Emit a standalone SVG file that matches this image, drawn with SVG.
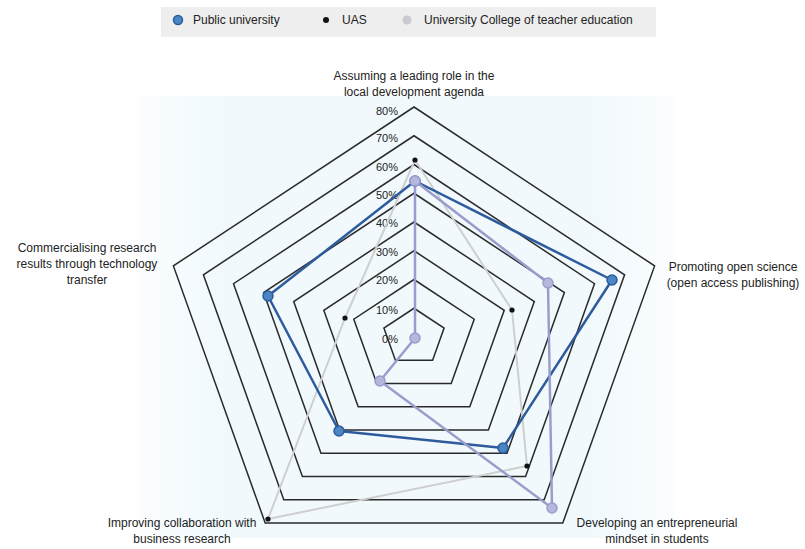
<svg xmlns="http://www.w3.org/2000/svg" width="805" height="549" viewBox="0 0 805 549">
<style>
text{font-family:"Liberation Sans",Arial,sans-serif;fill:#222;}
.lab{font-size:12px;text-anchor:middle;}
.pct{font-size:11px;text-anchor:end;}
.leg{font-size:12px;}
.grid{fill:none;stroke:#2a2a2a;stroke-width:1.5;stroke-linejoin:miter;}
.pub{fill:none;stroke:#2d5b9c;stroke-width:2.5;stroke-linejoin:round;}
.uas{fill:none;stroke:#cfcfcf;stroke-width:2;stroke-linejoin:round;}
.ute{fill:none;stroke:#9a9dcc;stroke-width:2.5;stroke-linejoin:round;}
.mpub{fill:#4a86c4;stroke:#2d5b9c;stroke-width:1.5;}
.muas{fill:#111;}
.mute{fill:#b5b8dc;stroke:#9a9dcc;stroke-width:1.5;}
</style>
<defs>
<linearGradient id="bg" x1="0" y1="0" x2="1" y2="0">
<stop offset="0" stop-color="#f1f9fd" stop-opacity="0.3"/>
<stop offset="0.15" stop-color="#f1f9fd"/>
<stop offset="0.85" stop-color="#f1f9fd"/>
<stop offset="1" stop-color="#f1f9fd" stop-opacity="0.3"/>
</linearGradient>
</defs>
<rect x="0" y="0" width="805" height="549" fill="#ffffff"/>
<rect x="140" y="96" width="535" height="442" fill="url(#bg)"/>
<g id="legend">
<rect x="161" y="7" width="495" height="30" fill="#eeeeee"/>
<circle cx="178" cy="20" r="4.5" class="mpub"/>
<text class="leg" x="193" y="24">Public university</text>
<circle cx="326" cy="20" r="3" class="muas"/>
<text class="leg" x="342" y="24">UAS</text>
<circle cx="407" cy="20" r="4.5" fill="#c9c9cf"/>
<text class="leg" x="424" y="24">University College of teacher education</text>
</g>
<g id="grid">
<polygon class="grid" points="414,308.25 444.1,328.1 432.6,360.3 395.4,360.3 383.9,328.1"/>
<polygon class="grid" points="414,279.5 474.2,319.2 451.2,383.5 376.8,383.5 353.8,319.2"/>
<polygon class="grid" points="414,250.75 504.2,310.3 469.8,406.8 358.2,406.8 323.8,310.3"/>
<polygon class="grid" points="414,222 534.3,301.5 488.4,430 339.6,430 293.7,301.5"/>
<polygon class="grid" points="414,193.25 564.4,292.6 507,453.3 321,453.3 263.6,292.6"/>
<polygon class="grid" points="414,164.5 594.5,283.7 525.6,476.5 302.4,476.5 233.5,283.7"/>
<polygon class="grid" points="414,135.75 624.6,274.8 544.2,499.8 283.8,499.8 203.4,274.8"/>
<polygon class="grid" points="414,107 654.6,265.9 562.8,523 265.2,523 173.4,265.9"/>
</g>
<g id="scale">
<text class="pct" x="398" y="115">80%</text>
<text class="pct" x="398" y="142">70%</text>
<text class="pct" x="398" y="171">60%</text>
<text class="pct" x="398" y="199">50%</text>
<text class="pct" x="398" y="227">40%</text>
<text class="pct" x="398" y="256">30%</text>
<text class="pct" x="398" y="284">20%</text>
<text class="pct" x="398" y="314">10%</text>
<text class="pct" x="398" y="343">0%</text>
</g>
<g id="connectors">
<polygon class="uas" points="415,160 512,310 527,466 268,519 345,318"/>
<polygon class="pub" points="415,181 612,280 503,448 339,431 268,296"/>
<polygon class="ute" points="415,181 548,283 552,508 380,381 415,338"/>
</g>
<g id="series-uas">
<circle cx="415" cy="160" r="2.6" class="muas"/>
<circle cx="512" cy="310" r="2.6" class="muas"/>
<circle cx="527" cy="466" r="2.6" class="muas"/>
<circle cx="268" cy="519" r="2.6" class="muas"/>
<circle cx="345" cy="318" r="2.6" class="muas"/>
</g>
<g id="series-public">
<circle cx="415" cy="181" r="5" class="mpub"/>
<circle cx="612" cy="280" r="5" class="mpub"/>
<circle cx="503" cy="448" r="5" class="mpub"/>
<circle cx="339" cy="431" r="5" class="mpub"/>
<circle cx="268" cy="296" r="5" class="mpub"/>
</g>
<g id="series-teacher">
<circle cx="415" cy="181" r="5" class="mute"/>
<circle cx="548" cy="283" r="5" class="mute"/>
<circle cx="552" cy="508" r="5" class="mute"/>
<circle cx="380" cy="381" r="5" class="mute"/>
<circle cx="415" cy="338" r="5" class="mute"/>
</g>
<g id="axis-top">
<text class="lab" x="414" y="80">Assuming a leading role in the</text>
<text class="lab" x="414" y="96">local development agenda</text>
</g>
<g id="axis-right">
<text class="lab" x="733" y="271">Promoting open science</text>
<text class="lab" x="733" y="287">(open access publishing)</text>
</g>
<g id="axis-bottom-right">
<text class="lab" x="657" y="527">Developing an entrepreneurial</text>
<text class="lab" x="657" y="543">mindset in students</text>
</g>
<g id="axis-bottom-left">
<text class="lab" x="182" y="527">Improving collaboration with</text>
<text class="lab" x="182" y="543">business research</text>
</g>
<g id="axis-left">
<text class="lab" x="87" y="252">Commercialising research</text>
<text class="lab" x="87" y="268">results through technology</text>
<text class="lab" x="87" y="284">transfer</text>
</g>
</svg>
